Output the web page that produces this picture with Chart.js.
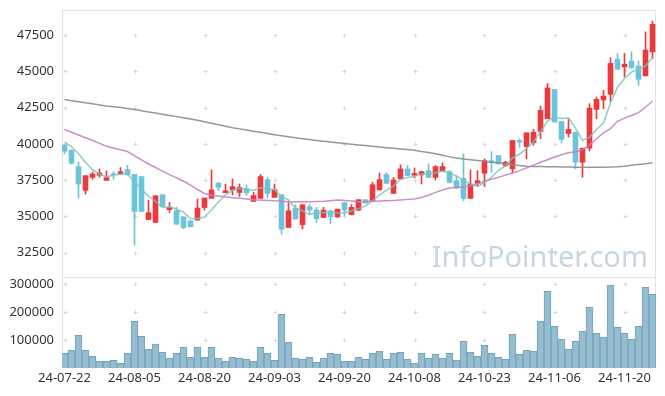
<!DOCTYPE html>
<html><head><meta charset="utf-8">
<script src="https://cdn.jsdelivr.net/npm/chart.js@4.4.1/dist/chart.umd.min.js"></script>
<style>
html,body{margin:0;padding:0;background:#fff;}
#wrap{position:relative;width:665px;height:396px;}
#c1{position:absolute;left:0;top:0;}
#c2{position:absolute;left:0;top:270px;}
</style></head><body>
<div id="wrap"><canvas id="c1" width="665" height="280"></canvas><canvas id="c2" width="665" height="126"></canvas></div>
<script>
const opens  = [39900,39550,38430,36790,37690,37830,37480,37880,37950,38220,37880,37740,34780,34580,36490,35460,35390,34970,34690,34740,35610,36240,37300,36630,36820,36650,36900,36030,36240,37530,36310,36490,34230,35570,34420,35660,35430,34920,35380,34970,35940,35110,35430,36150,36080,36820,37880,36580,37580,38270,37830,37860,38150,37690,38100,38080,37460,37620,36240,37270,37970,38840,39190,38500,38270,40230,39810,40070,40850,41730,43750,41540,40710,40800,38730,39700,42370,43020,43410,45830,45300,45700,45350,44680,46340];
const highs  = [39950,39600,38750,37820,38060,38270,38130,38080,38360,38520,37900,37740,36120,36420,36490,35960,35620,34970,34700,36190,36270,38200,37330,37230,37580,37230,37180,36650,37880,37690,37230,36490,35960,35800,35800,35840,35620,35620,35400,35500,35950,35800,36150,36150,37340,37990,38020,37690,38550,38500,38340,38120,38620,38500,38690,38150,37800,39310,38200,38150,38960,39470,39190,38800,40230,40340,40760,40990,42600,44150,43750,41540,41680,40800,39700,42770,43220,43690,45920,46220,46230,46340,45700,47720,48460];
const lows   = [39300,38600,36260,36540,37550,37690,37480,37560,37910,37850,33010,35340,34780,34580,35680,35270,34460,34140,34280,34740,35430,36240,36770,36630,36470,36370,36440,36030,36240,36260,36310,33770,34230,34810,34120,35150,34580,34900,34510,34900,35040,35100,35380,35920,36080,36820,37270,36580,37580,37800,37650,37230,37690,37510,38100,37300,36900,36080,36240,37110,37050,38040,38600,38430,37990,39760,38960,39900,40350,41730,41500,40070,40460,38270,37690,39500,41730,42420,42930,45140,44610,45230,44030,44680,45880];
const closes = [39490,38650,37230,37800,37920,37990,37670,37870,38080,37860,35340,35340,35250,36420,35680,35620,34460,34230,34280,35570,36260,36820,37000,36770,37050,37000,36630,36440,37740,36580,36840,34120,35380,34810,35800,35430,34830,35430,34970,35500,35430,35620,36150,35920,37180,37530,37270,37510,38270,37810,37960,38080,37690,38430,38430,37340,36970,36230,37230,37460,38840,38710,38620,38730,40230,40110,40760,40800,42300,43850,41500,40300,40990,38730,39700,42460,43070,43290,45540,45140,45490,45230,44450,46460,48240];
const volumes = [52500,63000,117000,63000,42000,24000,24000,27000,17000,52000,167000,113000,67000,85000,56000,35000,52000,74000,38000,74000,38000,74000,35000,24000,38000,35000,31000,24000,74000,52000,27000,192000,92000,35000,31000,38000,20000,35000,52000,49000,24000,24000,38000,31000,52000,60000,31000,52000,56000,31000,17000,52000,35000,49000,35000,52000,27000,95000,56000,42000,81000,52000,38000,31000,120000,49000,63000,60000,167000,274000,149000,102000,67000,95000,131000,217000,124000,110000,295000,145000,124000,102000,149000,288000,263000];
const ma5   = [40110,39810,39310,38730,38218,37918,37722,37850,37906,37894,37364,36898,36374,36042,35606,35662,35486,35282,34854,34832,34960,35432,35986,36484,36780,36928,36890,36778,36972,36878,36846,36344,36132,35546,35390,35108,35250,35260,35292,35232,35232,35390,35534,35724,36060,36480,36810,37082,37552,37678,37764,37926,37962,37994,38118,37994,37772,37480,37240,37046,37346,37694,38172,38472,39026,39280,39690,40126,40840,41564,41842,41750,41788,41074,40244,40436,40990,41450,42812,43900,44506,44938,45170,45354,45974];
const ma20  = [40990,40800,40610,40420,40230,40030,39830,39710,39590,39470,39190,38900,38610,38370,38120,37880,37650,37420,37150,36850,36580,36450,36400,36330,36290,36250,36200,36150,36120,36100,36080,36040,36010,36000,36000,36010,36020,36040,36080,36120,36100,36060,36010,36020,36030,36050,36070,36100,36130,36170,36200,36300,36450,36650,36820,36950,36990,37030,37100,37250,37400,37560,37690,37840,37990,38150,38330,38530,38730,38900,39090,39250,39380,39450,39600,39900,40350,40750,41050,41550,41770,41950,42150,42520,42950];
const ma120 = [43050,42975,42900,42830,42755,42680,42610,42555,42500,42440,42360,42280,42200,42120,42040,41960,41875,41790,41705,41620,41520,41415,41310,41205,41110,41030,40950,40870,40790,40710,40630,40555,40480,40415,40350,40290,40230,40170,40120,40070,40020,39975,39925,39880,39830,39780,39730,39690,39645,39600,39555,39470,39400,39320,39210,39100,39020,38950,38900,38850,38790,38730,38670,38620,38560,38500,38460,38445,38435,38425,38415,38405,38395,38390,38385,38380,38380,38385,38395,38420,38460,38515,38570,38630,38690];
const xTickIdx = [0,10,20,30,40,50,60,70,80];
const xTickLabels = ['24-07-22','24-08-05','24-08-20','24-09-03','24-09-20','24-10-08','24-10-23','24-11-06','24-11-20'];
const priceTicks = [32500,35000,37500,40000,42500,45000,47500];
const volumeTicks = [100000,200000,300000];

Chart.defaults.font.family = "'Noto Sans', 'DejaVu Sans', sans-serif";
Chart.defaults.font.size = 13;
Chart.defaults.color = '#333333';

const idx = closes.map((_, i) => i);
const upColor = '#ea3a3e', downColor = '#6dc3da';
const candleColors = idx.map(i => closes[i] >= opens[i] ? upColor : downColor);

const panelPlugin = {
  id: 'panel',
  beforeDatasetsDraw(chart, args, opts) {
    const {ctx, chartArea: a, scales} = chart;
    ctx.save();
    if (opts.watermark) {
      ctx.font = "29px 'Noto Sans', sans-serif";
      ctx.fillStyle = '#c6d7e2';
      ctx.textAlign = 'right';
      ctx.textBaseline = 'alphabetic';
      ctx.fillText(opts.watermark, 648, 267);
    }
    ctx.strokeStyle = '#e3e3e3';
    ctx.lineWidth = 1;
    ctx.strokeRect(a.left + 0.5, a.top + 0.5, a.right - a.left - 1, a.bottom - a.top - 1);
    ctx.strokeStyle = '#d8d8d8';
    for (const xi of xTickIdx) {
      const px = Math.round(scales.x.getPixelForValue(xi)) + 0.5;
      for (const yv of opts.yTicks) {
        const py = Math.round(scales.y.getPixelForValue(yv)) + 0.5;
        ctx.beginPath();
        ctx.moveTo(px - 2, py); ctx.lineTo(px + 2, py);
        ctx.moveTo(px, py - 2); ctx.lineTo(px, py + 2);
        ctx.stroke();
      }
    }
    ctx.restore();
  }
};

const xMin = -2.5 / 7, xMax = 84.5;
const fitY = s => { s.width = 62; s.paddingTop = 0; s.paddingBottom = 0; };
const fitX = h => s => { s.height = h; s.paddingLeft = 0; s.paddingRight = 0; };

new Chart(document.getElementById('c1'), {
  type: 'bar',
  data: {
    datasets: [
      {type: 'line', data: idx.map(i => ({x: i, y: ma5[i]})), borderColor: 'rgba(120,198,186,0.85)', borderWidth: 1.5, pointRadius: 0, order: 0},
      {type: 'line', data: idx.map(i => ({x: i, y: ma20[i]})), borderColor: 'rgba(200,130,194,0.9)', borderWidth: 1.5, pointRadius: 0, order: 0},
      {type: 'line', data: idx.map(i => ({x: i, y: ma120[i]})), borderColor: 'rgba(140,140,140,0.9)', borderWidth: 1.5, pointRadius: 0, order: 0},
      {type: 'bar', data: idx.map(i => ({x: i, y: [lows[i], highs[i]]})), backgroundColor: candleColors, barThickness: 1, grouped: false, order: 3},
      {type: 'bar', data: idx.map(i => ({x: i, y: [Math.min(opens[i], closes[i]), Math.max(opens[i], closes[i])]})), backgroundColor: candleColors, barThickness: 5, grouped: false, minBarLength: 1, order: 2}
    ]
  },
  options: {
    responsive: false, animation: false,
    layout: {padding: {top: 10, bottom: 2, right: 9, left: 0}},
    plugins: {legend: {display: false}, tooltip: {enabled: false}, panel: {yTicks: priceTicks, watermark: 'InfoPointer.com'}},
    scales: {
      x: {type: 'linear', offset: false, min: xMin, max: xMax, display: false},
      y: {
        min: 30750, max: 49225,
        grid: {display: false, drawTicks: false, tickLength: 0},
        border: {display: false},
        afterBuildTicks: s => { s.ticks = priceTicks.map(v => ({value: v})); },
        afterFit: fitY,
        ticks: {padding: 8, callback: v => String(v), color: '#333'}
      }
    }
  },
  plugins: [panelPlugin]
});

new Chart(document.getElementById('c2'), {
  type: 'bar',
  data: {
    datasets: [
      {data: idx.map(i => ({x: i, y: volumes[i]})), backgroundColor: '#95bdcf', borderColor: '#72a3ba', borderWidth: 1, barThickness: 7}
    ]
  },
  options: {
    responsive: false, animation: false,
    layout: {padding: {top: 7, bottom: 0, right: 9, left: 0}},
    plugins: {legend: {display: false}, tooltip: {enabled: false}, panel: {yTicks: volumeTicks}},
    scales: {
      x: {
        type: 'linear', offset: false, min: xMin, max: xMax,
        grid: {display: false, drawTicks: false, tickLength: 0}, border: {display: false},
        afterBuildTicks: s => { s.ticks = xTickIdx.map(v => ({value: v})); },
        afterFit: fitX(28),
        ticks: {padding: 2, maxRotation: 0, autoSkip: false, color: '#333',
          callback: v => { const k = xTickIdx.indexOf(v); return k >= 0 ? xTickLabels[k] : ''; }}
      },
      y: {
        min: 0, max: 325000,
        grid: {display: false, drawTicks: false, tickLength: 0}, border: {display: false},
        afterBuildTicks: s => { s.ticks = volumeTicks.map(v => ({value: v})); },
        afterFit: fitY,
        ticks: {padding: 8, callback: v => String(v), color: '#333'}
      }
    }
  },
  plugins: [panelPlugin]
});
</script>
</body></html>
